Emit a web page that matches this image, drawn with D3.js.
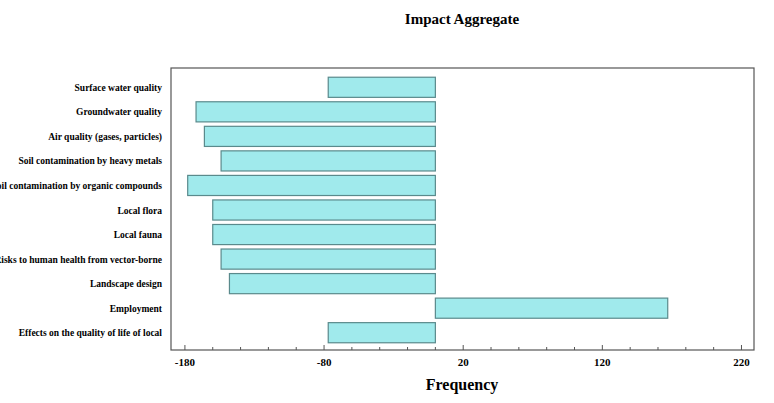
<!DOCTYPE html>
<html><head><meta charset="utf-8">
<script src="https://cdn.jsdelivr.net/npm/d3@7"></script>
<style>body{margin:0;background:#fff}</style>
</head><body><div id="chart"></div>
<script>
// categories and values
const categories = ["Surface water quality", "Groundwater quality", "Air quality (gases, particles)",
  "Soil contamination by heavy metals", "Soil contamination by organic compounds", "Local flora",
  "Local fauna", "Risks to human health from vector-borne", "Landscape design", "Employment",
  "Effects on the quality of life of local"];
const values = [-77, -172, -166, -154, -178, -160, -160, -154, -148, 167, -77];
const tickValues = [-180, -80, 20, 120, 220];

const W = 774, H = 403;
const plotLeft = 171, plotRight = 754, plotTop = 68, plotBottom = 350;

const svg = d3.select("#chart").append("svg").attr("width", W).attr("height", H)
  .style("font-family", "Liberation Serif, Times New Roman, serif");

const x = d3.scaleLinear().domain([-190, 229]).range([plotLeft, plotRight]);
const y = d3.scaleBand().domain(categories).range([plotTop + 8, plotBottom - 6]).paddingInner(0.18).paddingOuter(0.05);

svg.append("text").attr("x", 462).attr("y", 24).attr("text-anchor", "middle")
  .style("font-size", "15px").style("font-weight", "bold").text("Impact Aggregate");

// frame
svg.append("rect").attr("x", plotLeft).attr("y", plotTop).attr("width", plotRight - plotLeft).attr("height", plotBottom - plotTop)
  .attr("fill", "none").attr("stroke", "#555").attr("stroke-width", 1.2);

// bars
svg.selectAll("rect.bar").data(values).enter().append("rect")
  .attr("class", "bar")
  .attr("x", d => x(Math.min(0, d)))
  .attr("width", d => Math.abs(x(d) - x(0)))
  .attr("y", (d, i) => y(categories[i]))
  .attr("height", y.bandwidth())
  .attr("fill", "#a0eaec").attr("stroke", "#5a8a8c").attr("stroke-width", 1.2);

// bottom axis, ticks pointing inward
const minor = d3.range(-180, 221, 20);
svg.selectAll("line.tick").data(minor).enter().append("line")
  .attr("x1", d => x(d)).attr("x2", d => x(d))
  .attr("y1", plotBottom).attr("y2", d => plotBottom - (tickValues.includes(d) ? 5 : 3))
  .attr("stroke", "#555");
svg.selectAll("text.tl").data(tickValues).enter().append("text")
  .attr("x", d => x(d)).attr("y", plotBottom + 16).attr("text-anchor", "middle")
  .style("font-size", "11px").style("font-weight", "bold").text(d => d);

svg.append("text").attr("x", 462).attr("y", 390).attr("text-anchor", "middle")
  .style("font-size", "16px").style("font-weight", "bold").text("Frequency");

// category labels
svg.selectAll("text.cat").data(categories).enter().append("text")
  .attr("x", 162).attr("y", d => y(d) + y.bandwidth() / 2 + 3.5).attr("text-anchor", "end")
  .style("font-size", "9.5px").style("font-weight", "bold").text(d => d);
</script></body></html>
